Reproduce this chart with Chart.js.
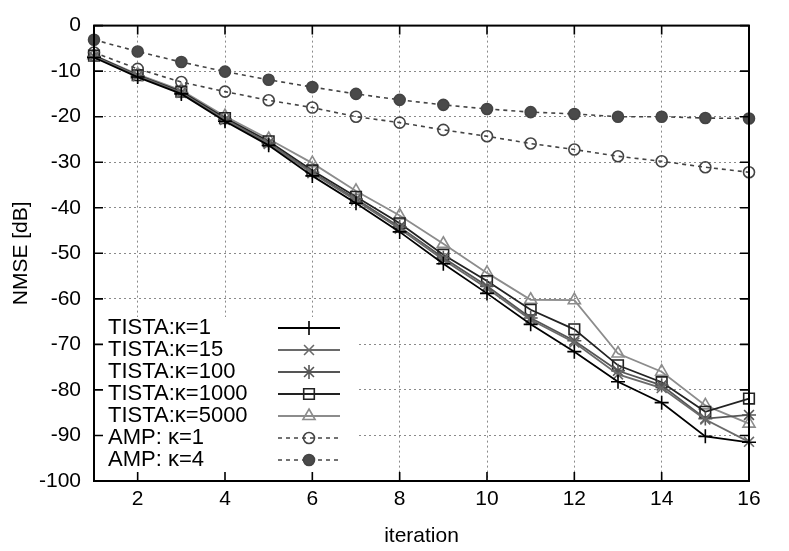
<!DOCTYPE html>
<html>
<head>
<meta charset="utf-8">
<script src="https://cdn.jsdelivr.net/npm/chart.js@4/dist/chart.umd.min.js"></script>
<style>
  html, body { margin: 0; padding: 0; background: #fff; }
  #wrap { width: 789px; height: 551px; }
</style>
</head>
<body>
<div id="wrap"><canvas id="nmseChart" width="789" height="551"></canvas></div>
<script>
// values
const iterations = [1, 2, 3, 4, 5, 6, 7, 8, 9, 10, 11, 12, 13, 14, 15, 16];
const xTickValues = [2, 4, 6, 8, 10, 12, 14, 16];

const tistaK1 = [-7.0, -11.3, -15.0, -21.0, -26.3, -33.0, -39.0, -45.3, -52.3, -58.8, -65.6, -71.6, -78.2, -82.8, -90.2, -91.5];
const tistaK15 = [-6.8, -11.1, -14.8, -20.7, -26.0, -32.4, -38.4, -44.6, -51.4, -57.7, -64.6, -69.6, -76.6, -79.6, -86.5, -91.4];
const tistaK100 = [-6.8, -11.0, -14.7, -20.6, -25.8, -32.2, -38.1, -44.2, -51.0, -57.2, -64.2, -69.2, -75.8, -79.0, -86.3, -85.5];
const tistaK1000 = [-6.6, -10.9, -14.5, -20.3, -25.4, -31.8, -37.6, -43.4, -50.3, -56.1, -62.4, -66.7, -74.6, -78.3, -84.8, -81.9];
const tistaK5000 = [-6.5, -10.7, -14.2, -19.9, -24.9, -30.2, -36.3, -41.7, -47.9, -54.3, -60.2, -60.3, -72.0, -76.0, -83.4, -87.4];
const ampK1 = [-5.9, -9.5, -12.4, -14.5, -16.4, -18.0, -20.0, -21.3, -22.9, -24.3, -25.9, -27.2, -28.7, -29.8, -31.1, -32.2];
const ampK4 = [-3.1, -5.7, -8.0, -10.1, -11.9, -13.5, -15.0, -16.3, -17.4, -18.3, -19.0, -19.4, -20.0, -20.0, -20.3, -20.4];

const FONT = "'Liberation Sans', Arial, Helvetica, sans-serif";

function toPoints(vals) {
  return vals.map((v, i) => ({ x: iterations[i], y: v }));
}

function series(label, vals, color, style, radius, dashed, fill) {
  return {
    label: label,
    data: toPoints(vals),
    borderColor: color,
    backgroundColor: fill || "rgba(0,0,0,0)",
    borderWidth: dashed ? 1.6 : 1.8,
    borderDash: dashed ? [4, 4] : [],
    pointStyle: style,
    pointRadius: radius,
    pointBorderWidth: 1.6,
    pointBorderColor: color,
    pointBackgroundColor: fill || "rgba(0,0,0,0)",
    tension: 0,
    clip: false,
  };
}

// gnuplot style key with white background in the lower left corner
const keyPlugin = {
  id: "gnuKey",
  afterDatasetsDraw(chart) {
    const ctx = chart.ctx;
    const area = chart.chartArea;
    ctx.save();
    ctx.fillStyle = "#fff";
    ctx.fillRect(area.left + 6, 317, 258, area.bottom - 317);
    ctx.font = "22px " + FONT;
    ctx.textBaseline = "middle";
    chart.data.datasets.forEach((ds, i) => {
      const y = 328 + i * 22;
      ctx.fillStyle = "#000";
      ctx.textAlign = "left";
      ctx.fillText(ds.label, 108, y);
      ctx.strokeStyle = ds.borderColor;
      ctx.lineWidth = ds.borderWidth;
      ctx.setLineDash(ds.borderDash);
      ctx.beginPath();
      ctx.moveTo(278, y);
      ctx.lineTo(340, y);
      ctx.stroke();
      ctx.setLineDash([]);
      ctx.lineWidth = ds.pointBorderWidth;
      ctx.fillStyle = ds.pointBackgroundColor;
      Chart.helpers.drawPoint(ctx, {
        pointStyle: ds.pointStyle,
        radius: ds.pointRadius,
        borderWidth: ds.pointBorderWidth,
        rotation: 0,
      }, 309, y);
    });
    ctx.restore();
  },
  afterDraw(chart) {
    // border and inward tick marks on all four sides
    const ctx = chart.ctx;
    const a = chart.chartArea;
    const xs = chart.scales.x;
    const ys = chart.scales.y;
    const len = 9;
    ctx.save();
    ctx.strokeStyle = "#000";
    ctx.lineWidth = 2;
    ctx.strokeRect(a.left, a.top, a.right - a.left, a.bottom - a.top);
    ctx.lineWidth = 1.6;
    ctx.beginPath();
    xs.ticks.forEach((t) => {
      const px = xs.getPixelForValue(t.value);
      ctx.moveTo(px, a.bottom);
      ctx.lineTo(px, a.bottom - len);
      ctx.moveTo(px, a.top);
      ctx.lineTo(px, a.top + len);
    });
    ys.ticks.forEach((t) => {
      const py = ys.getPixelForValue(t.value);
      ctx.moveTo(a.left, py);
      ctx.lineTo(a.left + len, py);
      ctx.moveTo(a.right, py);
      ctx.lineTo(a.right - len, py);
    });
    ctx.stroke();
    ctx.restore();
  },
};

new Chart(document.getElementById("nmseChart"), {
  type: "line",
  data: {
    datasets: [
      series("TISTA:\u03ba=1", tistaK1, "#000000", "cross", 7, false),
      series("TISTA:\u03ba=15", tistaK15, "#6a6a6a", "crossRot", 7, false),
      series("TISTA:\u03ba=100", tistaK100, "#555555", "star", 7, false),
      series("TISTA:\u03ba=1000", tistaK1000, "#222222", "rect", 7.5, false),
      series("TISTA:\u03ba=5000", tistaK5000, "#8c8c8c", "triangle", 7, false),
      series("AMP: \u03ba=1", ampK1, "#444444", "circle", 5.5, true),
      series("AMP: \u03ba=4", ampK4, "#444444", "circle", 5.5, true, "#4a4a4a"),
    ],
  },
  options: {
    responsive: false,
    animation: false,
    layout: { padding: { left: 0, right: 40, top: 25, bottom: 0 } },
    plugins: { legend: { display: false }, tooltip: { enabled: false } },
    scales: {
      x: {
        type: "linear",
        min: 1,
        max: 16,
        afterBuildTicks: (scale) => {
          scale.ticks = xTickValues.map((v) => ({ value: v }));
        },
        afterFit: (scale) => { scale.height = 70; },
        ticks: { color: "#000", font: { family: FONT, size: 21 }, padding: 6, maxRotation: 0 },
        grid: { color: "#8a8a8a", lineWidth: 1, drawTicks: false },
        border: { display: false, dash: [2, 3] },
        title: {
          display: true,
          text: "iteration",
          color: "#000",
          font: { family: FONT, size: 21 },
          padding: { top: 0, bottom: 2 },
        },
      },
      y: {
        min: -100,
        max: 0,
        afterFit: (scale) => { scale.width = 94; },
        ticks: { stepSize: 10, color: "#000", font: { family: FONT, size: 21 }, padding: 13 },
        grid: { color: "#8a8a8a", lineWidth: 1, drawTicks: false },
        border: { display: false, dash: [2, 3] },
        title: {
          display: true,
          text: "NMSE [dB]",
          color: "#000",
          font: { family: FONT, size: 21 },
          padding: { top: 9, bottom: 0 },
        },
      },
    },
  },
  plugins: [keyPlugin],
});
</script>
</body>
</html>
